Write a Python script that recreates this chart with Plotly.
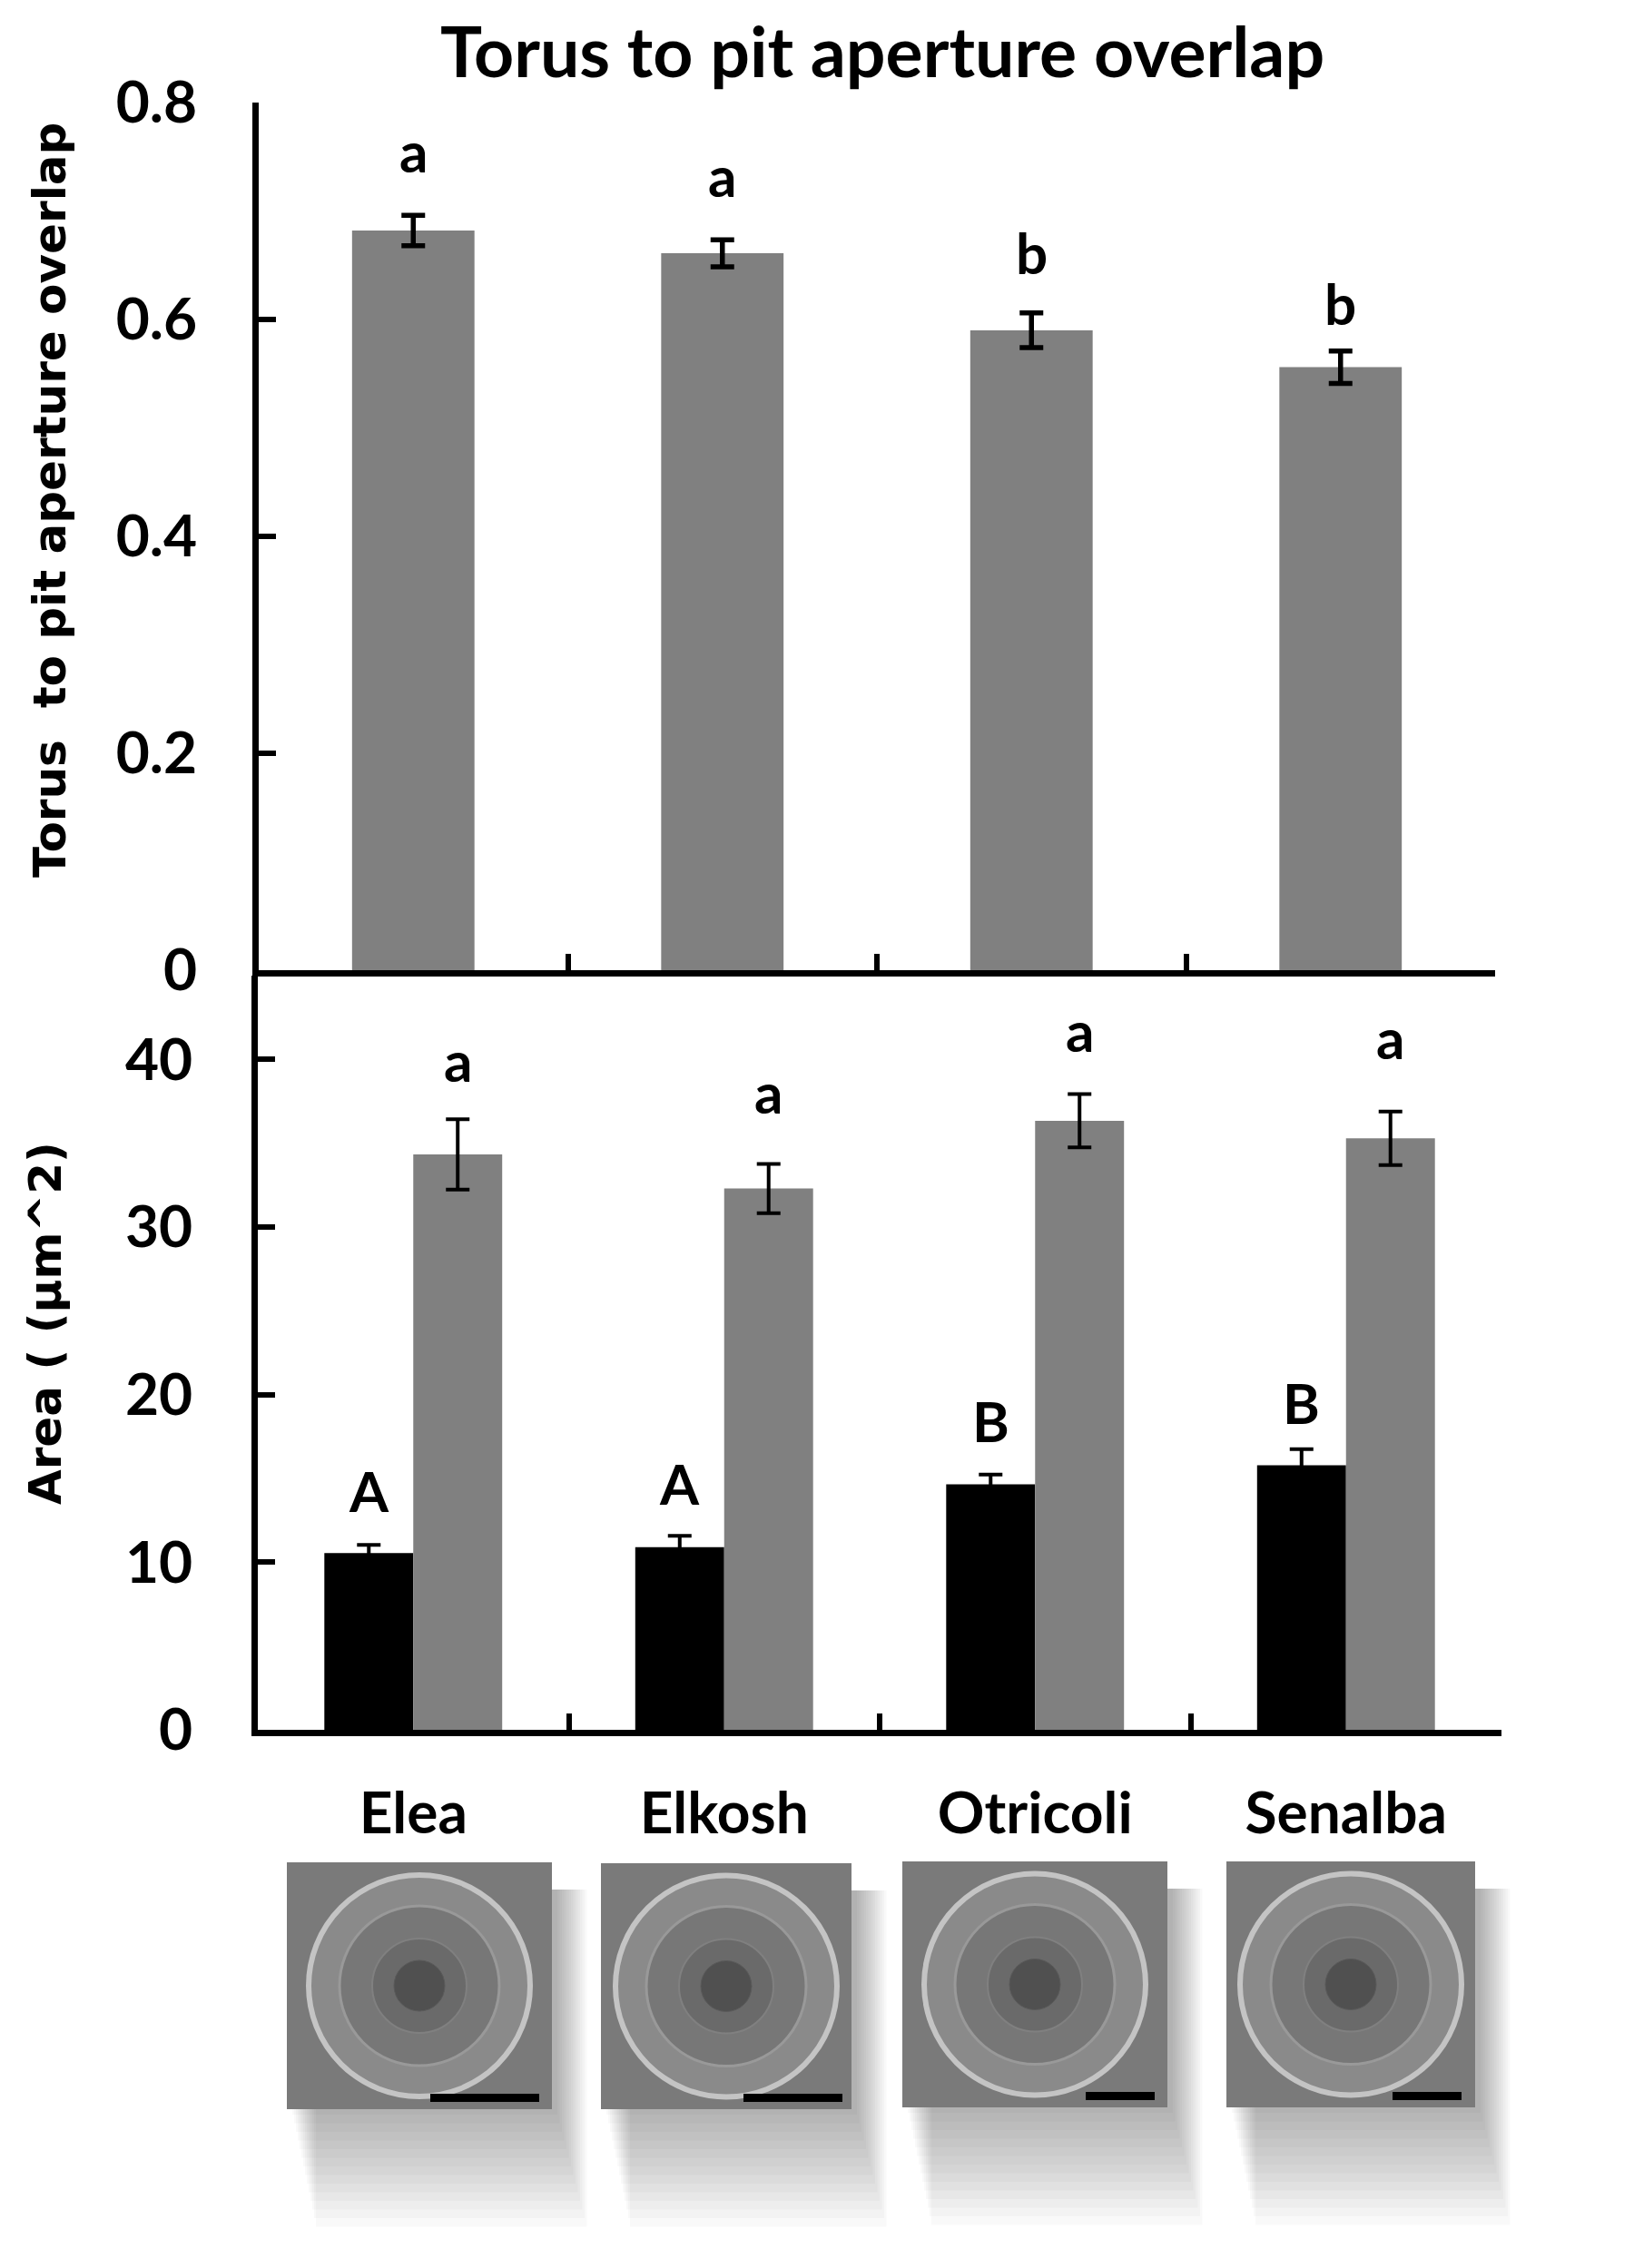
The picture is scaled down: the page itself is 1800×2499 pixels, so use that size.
import plotly.graph_objects as go

# data
categories = ["Elea", "Elkosh", "Otricoli", "Senalba"]

overlap_mean = [0.682, 0.661, 0.590, 0.556]
overlap_err = [0.014, 0.0125, 0.016, 0.015]
overlap_letters = ["a", "a", "b", "b"]
overlap_letter_y = [0.735, 0.712, 0.641, 0.594]

area_black_mean = [10.54, 10.90, 14.65, 15.79]
area_black_err = [0.50, 0.67, 0.58, 0.95]
area_black_letters = ["A", "A", "B", "B"]
area_black_letter_y = [12.94, 13.37, 17.10, 18.19]

area_grey_mean = [34.33, 32.30, 36.34, 35.29]
area_grey_err = [2.10, 1.47, 1.59, 1.60]
area_grey_letters = ["a", "a", "a", "a"]
area_grey_letter_y = [38.59, 36.70, 40.38, 39.96]

W, H = 1800, 2499
PAGE_PAD = 8  # browser body margin
GREY = "#808080"
CAL = "Lato, Open Sans, sans-serif"
VER = "DejaVu Sans, Verdana, sans-serif"


def px(x):
    return (x - PAGE_PAD) / W


def py(y):
    return 1 - (y - PAGE_PAD) / H


fig = go.Figure()

# top panel: overlap
fig.add_trace(go.Bar(
    x=categories, y=overlap_mean, xaxis="x", yaxis="y",
    marker=dict(color=GREY, line=dict(width=0)),
    width=0.396, offset=-0.198,
    error_y=dict(type="data", array=overlap_err, color="black", thickness=5.5, width=13),
    showlegend=False,
))

# bottom panel: areas
fig.add_trace(go.Bar(
    x=categories, y=area_black_mean, xaxis="x2", yaxis="y2",
    marker=dict(color="black", line=dict(width=0)),
    width=0.286, offset=-0.286,
    error_y=dict(type="data", array=area_black_err, color="black", thickness=4, width=13),
    showlegend=False,
))
fig.add_trace(go.Bar(
    x=categories, y=area_grey_mean, xaxis="x2", yaxis="y2",
    marker=dict(color=GREY, line=dict(width=0)),
    width=0.286, offset=0,
    error_y=dict(type="data", array=area_grey_err, color="black", thickness=4, width=13),
    showlegend=False,
))

letter_font = dict(family=CAL, size=62, color="black", weight="bold")
annotations = []
for i, c in enumerate(categories):
    annotations.append(dict(x=i, y=overlap_letter_y[i], xref="x", yref="y", text=overlap_letters[i],
                            showarrow=False, yanchor="bottom", yshift=-14, font=letter_font))
    annotations.append(dict(x=i - 0.143, y=area_black_letter_y[i], xref="x2", yref="y2",
                            text=area_black_letters[i], showarrow=False, yanchor="bottom", yshift=-14,
                            font=letter_font))
    annotations.append(dict(x=i + 0.143, y=area_grey_letter_y[i], xref="x2", yref="y2",
                            text=area_grey_letters[i], showarrow=False, yanchor="bottom", yshift=-14,
                            font=letter_font))

# titles
annotations.append(dict(x=px(972), y=1, xref="paper", yref="paper",
                        text="Torus to pit aperture overlap", showarrow=False,
                        xanchor="center", yanchor="top", borderpad=0,
                        font=dict(family=CAL, size=77, color="black", weight="bold")))
annotations.append(dict(x=px(55), y=py(551), xref="paper", yref="paper",
                        text="Torus  to pit aperture overlap", showarrow=False, textangle=-90,
                        xanchor="center", yanchor="middle",
                        font=dict(family=VER, size=50, color="black", weight="bold")))
annotations.append(dict(x=px(50), y=py(1458), xref="paper", yref="paper",
                        text="Area ( (µm^2)", showarrow=False, textangle=-90,
                        xanchor="center", yanchor="middle",
                        font=dict(family=VER, size=50, color="black", weight="bold")))

# SEM micrograph placeholders below the chart
shapes = []
pics = [
    (316, 2052, 608, 2324, (474, 594)),
    (662, 2053, 938, 2324, (819, 928)),
    (994, 2051, 1286, 2322, (1196, 1272)),
    (1351, 2051, 1625, 2322, (1534, 1610)),
]
for x0, y0, x1, y1, bar in pics:
    for k in range(14):
        shapes.append(dict(type="rect", xref="paper", yref="paper",
                           x0=px(x0 + 6 + k * 2), x1=px(x1 + 6 + k * 2.5),
                           y0=py(y1 + 6 + k * 9.5), y1=py(y0 + 30),
                           fillcolor="rgba(0,0,0,0.022)", line=dict(width=0), layer="below"))
    cx, cy = (x0 + x1) / 2, (y0 + y1) / 2
    shapes.append(dict(type="rect", xref="paper", yref="paper",
                       x0=px(x0), x1=px(x1), y0=py(y1), y1=py(y0),
                       fillcolor="#7a7a7a", line=dict(width=0)))
    for r, fill, lc, lw in [(122, "#8a8a8a", "#c4c4c4", 6), (88, "#777777", "#999999", 3),
                            (52, "#6a6a6a", "#808080", 2), (28, "#505050", "#5a5a5a", 1)]:
        shapes.append(dict(type="circle", xref="paper", yref="paper",
                           x0=px(cx - r), x1=px(cx + r), y0=py(cy + r), y1=py(cy - r),
                           fillcolor=fill, line=dict(color=lc, width=lw)))
    shapes.append(dict(type="rect", xref="paper", yref="paper",
                       x0=px(bar[0]), x1=px(bar[1]), y0=py(y1 - 8), y1=py(y1 - 17),
                       fillcolor="black", line=dict(width=0)))

tick_font = dict(family=CAL, size=64, color="black", weight="bold")
fig.update_layout(
    template="none",
    width=W, height=H,
    margin=dict(l=0, r=0, t=0, b=0, pad=0),
    paper_bgcolor="white", plot_bgcolor="white",
    barmode="overlay",
    xaxis=dict(domain=[px(285), px(1647)], anchor="y", type="category", automargin=False,
               tickson="boundaries", ticks="inside", ticklen=18, tickwidth=6, tickcolor="black",
               showticklabels=False, showline=True, linecolor="black", linewidth=7,
               showgrid=False, zeroline=False),
    yaxis=dict(domain=[py(1069), py(113)], anchor="x", range=[0, 0.8], automargin=False,
               tickvals=[0, 0.2, 0.4, 0.6, 0.8], ticktext=["0", "0.2", "0.4", "0.6", "0.8"],
               ticks="inside", ticklen=19, tickwidth=6, tickcolor="black",
               ticklabelstandoff=48, tickfont=tick_font,
               showline=True, linecolor="black", linewidth=7,
               showgrid=False, zeroline=False),
    xaxis2=dict(domain=[px(284), px(1654)], anchor="y2", type="category", automargin=False,
                tickson="boundaries", ticks="inside", ticklen=18, tickwidth=6, tickcolor="black",
                ticklabelstandoff=30, tickfont=tick_font,
                showline=True, linecolor="black", linewidth=7,
                showgrid=False, zeroline=False),
    yaxis2=dict(domain=[py(1906), py(1075)], anchor="x2", range=[0, 45], automargin=False,
                tickvals=[0, 10, 20, 30, 40],
                ticks="inside", ticklen=19, tickwidth=6, tickcolor="black",
                ticklabelstandoff=52, tickfont=tick_font,
                showline=True, linecolor="black", linewidth=7,
                showgrid=False, zeroline=False),
    annotations=annotations,
    shapes=shapes,
)

fig.write_html("out.html")
